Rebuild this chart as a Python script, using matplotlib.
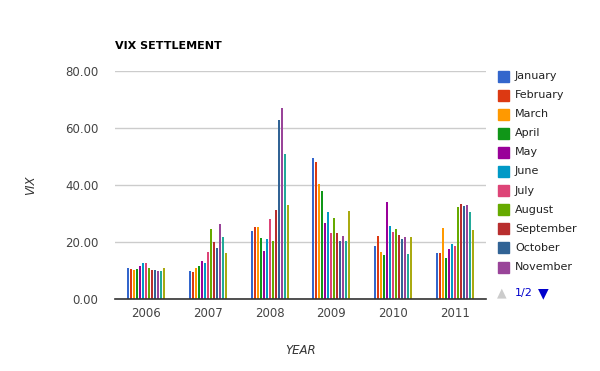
import matplotlib.pyplot as plt
from matplotlib.patches import Rectangle
from matplotlib.ticker import FormatStrFormatter
import numpy as np

years = ['2006', '2007', '2008', '2009', '2010', '2011']
months = ['January', 'February', 'March', 'April', 'May', 'June', 'July',
          'August', 'September', 'October', 'November', 'December', 'Average']
colors = ['#3366cc', '#dc3912', '#ff9900', '#109618', '#990099', '#0099c6',
          '#dd4477', '#66aa00', '#b82e2e', '#316395', '#994499', '#22aa99', '#aaaa11']

# one row per year, one column per month (+ last column)
vix = [
    [11.0, 10.6, 10.3, 10.6, 11.7, 12.7, 12.7, 11.0, 10.3, 10.3, 9.9, 9.9, 11.0],
    [9.9, 9.6, 11.0, 11.7, 13.5, 12.7, 16.6, 24.7, 20.1, 18.0, 26.4, 21.9, 16.3],
    [24.0, 25.4, 25.4, 21.5, 17.0, 21.2, 28.2, 20.5, 31.3, 62.9, 67.1, 51.0, 33.1],
    [49.6, 48.2, 40.5, 38.0, 26.8, 30.6, 23.3, 28.5, 23.3, 20.5, 22.2, 20.5, 31.0],
    [18.7, 22.2, 16.6, 15.6, 34.2, 25.7, 23.6, 24.7, 22.6, 21.2, 21.9, 15.9, 21.9],
    [16.3, 16.3, 25.0, 14.5, 17.7, 19.4, 18.7, 32.4, 33.5, 32.7, 33.1, 30.6, 24.3],
]

fig = plt.figure(figsize=(6, 3.71), dpi=100)
ax = fig.add_axes([115 / 600, 72 / 371, 371 / 600, 228 / 371])

x = np.arange(len(years))
slot = 0.0485
n = len(months)
for i in range(n):
    vals = [row[i] for row in vix]
    ax.bar(x + (i - (n - 1) / 2) * slot, vals, width=slot * 0.68,
           color=colors[i], zorder=3)

ax.set_xlim(-0.5, len(years) - 0.5)
ax.set_ylim(0, 80)
ax.set_yticks([0, 20, 40, 60, 80])
ax.yaxis.set_major_formatter(FormatStrFormatter('%.2f'))
ax.set_xticks(x)
ax.set_xticklabels(years)
ax.grid(axis='y', color='#cccccc', linewidth=1, zorder=0)
for s in ['top', 'right', 'left']:
    ax.spines[s].set_visible(False)
ax.spines['bottom'].set_color('#333333')
ax.spines['bottom'].set_linewidth(1.2)
ax.spines['bottom'].set_zorder(4)
ax.tick_params(length=0, labelsize=8.5, colors='#444444')
ax.tick_params(axis='y', pad=12)
ax.tick_params(axis='x', pad=6)

ax.set_xlabel('YEAR', fontstyle='italic', fontsize=8.5, color='#333333')
ax.xaxis.set_label_coords(0.5, -(344 - 299) / 228)
ax.set_ylabel('VIX', fontstyle='italic', fontsize=8.5, color='#333333')
ax.yaxis.set_label_coords(-(115 - 37) / 371, 0.5)
fig.text(115 / 600, 1 - 46 / 371, 'VIX SETTLEMENT', fontsize=8, fontweight='bold',
         va='center', ha='left')

# legend, first page of 11 entries
for k in range(11):
    yc = 76 + k * 19.1
    fig.patches.append(Rectangle((498 / 600, 1 - (yc + 5.5) / 371), 11 / 600, 11 / 371,
                                 transform=fig.transFigure, color=colors[k]))
    fig.text(515 / 600, 1 - yc / 371, months[k], fontsize=8, color='#222222',
             va='center', ha='left')

fig.text(502 / 600, 1 - 293 / 371, '\u25b2', fontsize=9, color='#cccccc',
         va='center', ha='center')
fig.text(515 / 600, 1 - 293 / 371, '1/2', fontsize=8, color='#0000cc',
         va='center', ha='left')
fig.text(543 / 600, 1 - 293 / 371, '\u25bc', fontsize=10, color='#0000cc',
         va='center', ha='center')

fig.savefig('out.png', dpi=100)
